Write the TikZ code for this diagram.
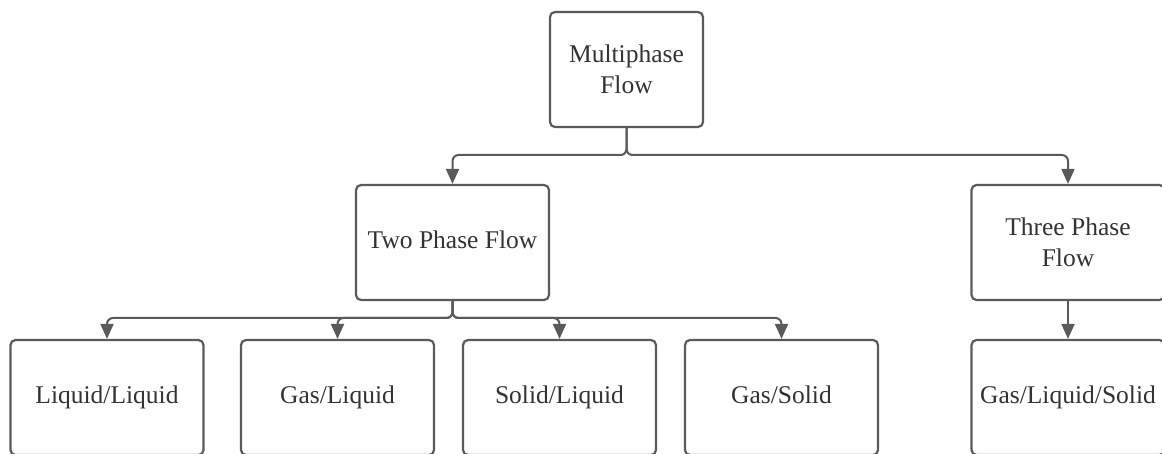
\documentclass[tikz,border=0pt]{standalone}
\usepackage{fontspec}
\setmainfont{Liberation Serif}
\usetikzlibrary{arrows.meta}
\definecolor{edge}{HTML}{5A5A5A}
\definecolor{ink}{HTML}{333333}
\tikzset{
  boxtext/.style={align=center, text=ink, inner sep=0pt,
    font=\fontsize{25.5}{30.5}\selectfont},
  box/.style={boxtext, draw=edge, line width=2.2pt, rounded corners=5pt,
    minimum width=193pt, minimum height=115pt,
    execute at begin node=\strut},
  twoline/.style={label={[boxtext]center:#1}},
  link/.style={draw=edge, line width=2pt, rounded corners=6pt,
    -{Triangle[length=15pt,width=13pt]}},
}
\begin{document}
\begin{tikzpicture}[x=1pt,y=-1pt]
\useasboundingbox (0,0) rectangle (1162,454);
% tree of flow categories
\node[box, minimum width=153pt, twoline={Multiphase\\Flow}] (multi) at (626.5,69.5) {};
\node[box] (two) at (452.5,242.5) {Two Phase Flow};
\node[box, twoline={Three Phase\\Flow}] (three) at (1068,242.5) {};
\node[box] (ll) at (107,397.5) {Liquid/Liquid};
\node[box] (gl) at (337.5,397.5) {Gas/Liquid};
\node[box] (sl) at (559.5,397.5) {Solid/Liquid};
\node[box] (gs) at (781.5,397.5) {Gas/Solid};
\node[box] (gls) at (1068,397.5) {Gas/Liquid/Solid};
% connectors
\coordinate (j1) at (626.5,155);
\coordinate (j2) at (452.5,318);
\draw[link] (multi.south) |- (j1) -| (two.north);
\draw[link] (multi.south) |- (j1) -| (three.north);
\foreach \c in {ll,gl,sl,gs}
  \draw[link] (two.south) |- (j2) -| (\c.north);
\draw[link] (three.south) -- (gls.north);
\end{tikzpicture}
\end{document}
